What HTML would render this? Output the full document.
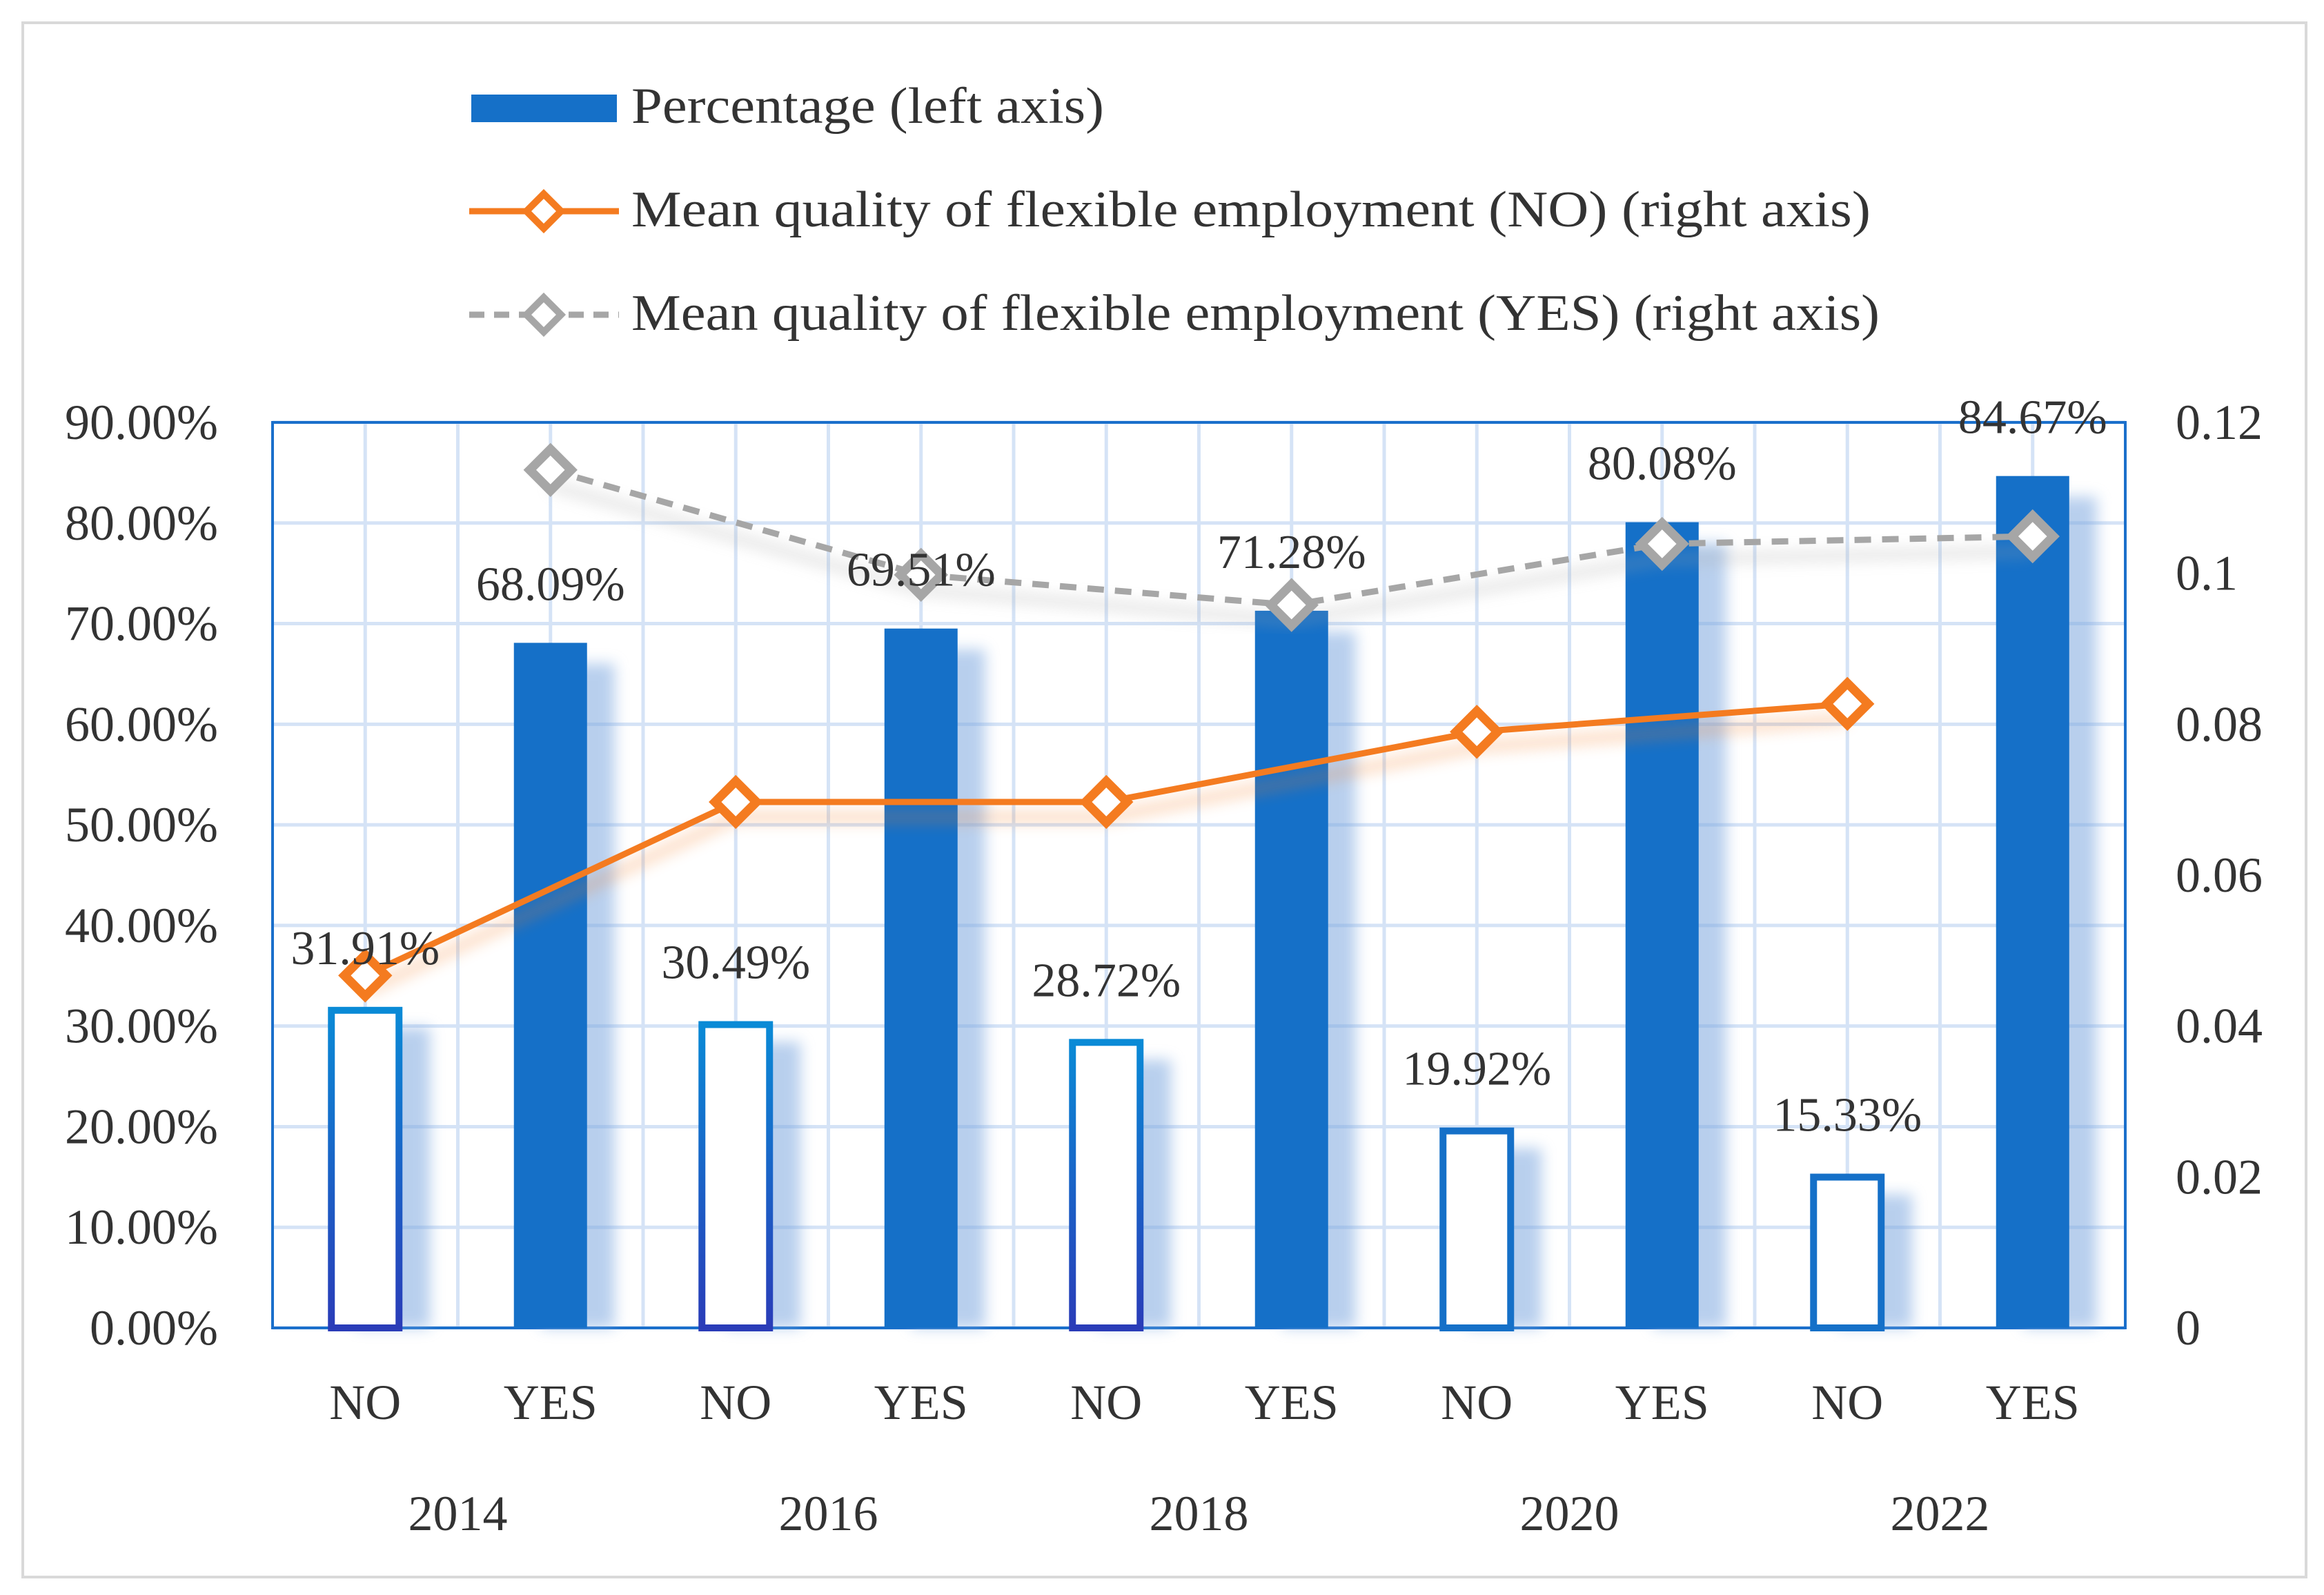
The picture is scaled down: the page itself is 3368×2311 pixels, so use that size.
<!DOCTYPE html>
<html><head><meta charset="utf-8"><style>
html,body{margin:0;padding:0;background:#fff;}
svg{display:block;font-family:"Liberation Serif",serif;}
</style></head><body>
<svg id="chart" width="3368" height="2311" viewBox="0 0 3368 2311">
<defs>
<filter id="blur" x="-50%" y="-10%" width="200%" height="120%"><feGaussianBlur stdDeviation="10"/></filter>
<linearGradient id="noGrad" x1="0" y1="0" x2="0" y2="1"><stop offset="0" stop-color="#0a8ad6"/><stop offset="1" stop-color="#2a3cb8"/></linearGradient>
</defs>
<rect x="33" y="33" width="3309" height="2252" fill="#fff" stroke="#d9d9d9" stroke-width="4"/>
<g id="legend">
<rect x="683" y="137" width="211" height="40" fill="#1570c8"/>
<text x="915" y="178" font-size="74" fill="#333" textLength="685" lengthAdjust="spacingAndGlyphs">Percentage (left axis)</text>
<line x1="680" y1="306" x2="897" y2="306" stroke="#f47b20" stroke-width="9"/>
<path d="M788 281 L813 306 L788 331 L763 306 Z" fill="#fff" stroke="#f47b20" stroke-width="10"/>
<text x="915" y="328" font-size="74" fill="#333" textLength="1796" lengthAdjust="spacingAndGlyphs">Mean quality of flexible employment (NO) (right axis)</text>
<line x1="680" y1="456" x2="897" y2="456" stroke="#a6a6a6" stroke-width="9" stroke-dasharray="22,14"/>
<path d="M788 431 L813 456 L788 481 L763 456 Z" fill="#fff" stroke="#a6a6a6" stroke-width="10"/>
<text x="915" y="478" font-size="74" fill="#333" textLength="1809" lengthAdjust="spacingAndGlyphs">Mean quality of flexible employment (YES) (right axis)</text>
</g>
<g id="grid"></g><g id="bars"></g><g id="lines"></g><g id="labels"></g>
</svg>
<script>
const categories = ["NO","YES","NO","YES","NO","YES","NO","YES","NO","YES"];
const years = ["2014","2016","2018","2020","2022"];
const percentages = [31.91,68.09,30.49,69.51,28.72,71.28,19.92,80.08,15.33,84.67];
const qualityNo = [0.0467,0.0697,0.0697,0.0790,0.0827];
const qualityYes = [0.1137,0.0998,0.0958,0.1039,0.1049];
const leftTicks = ["0.00%","10.00%","20.00%","30.00%","40.00%","50.00%","60.00%","70.00%","80.00%","90.00%"];
const rightTicks = ["0","0.02","0.04","0.06","0.08","0.1","0.12"];

const NS="http://www.w3.org/2000/svg";
const L=395,R=3080,T=612,B=1924;
const slot=(R-L)/categories.length;
const xC=i=>L+slot*(i+0.5);
const yL=v=>B-(v/90)*(B-T);
const yR=v=>B-(v/0.12)*(B-T);
function mk(tag,attrs,parent){const e=document.createElementNS(NS,tag);for(const k in attrs)e.setAttribute(k,attrs[k]);parent.appendChild(e);return e;}
const grid=document.getElementById('grid'),bars=document.getElementById('bars'),lines=document.getElementById('lines'),labels=document.getElementById('labels');

for(let i=0;i<leftTicks.length;i++){
  const y=yL(i*10);
  const g=mk('line',{x1:L,x2:R,y1:y,y2:y,stroke:'#d5e3f6','stroke-width':5},grid);
  
  
  const t=mk('text',{x:316,y:y+24,'font-size':72,fill:'#333','text-anchor':'end'},labels);
  t.textContent=leftTicks[i];
  
  
}
for(let i=0;i<rightTicks.length;i++){
  const y=yR(i*0.02);
  const t=mk('text',{x:3153,y:y+24,'font-size':72,fill:'#333'},labels);
  t.textContent=rightTicks[i];
  
  
}
for(let k=1;k<categories.length*2;k++){
  const x=L+slot*k/2;
  const g=mk('line',{x1:x,x2:x,y1:T,y2:B,stroke:'#d5e3f6','stroke-width':5},grid);
  
  
}
const frame=mk('rect',{x:L,y:T,width:R-L,height:B-T,fill:'none',stroke:'#1a6fcb','stroke-width':4},grid);



percentages.forEach((v,i)=>{
  const cx=xC(i),top=yL(v);
  const isNo=categories[i]==="NO";
  const w=isNo?108:106;
  const sh=mk('rect',{x:cx-w/2+40,y:top+30,width:w,height:B-top-30,fill:'#7fa9e0',opacity:0.55,filter:'url(#blur)'},bars);
  
  
  let b;
  if(isNo){
    b=mk('rect',{x:cx-w/2+5,y:top+5,width:w-10,height:B-top-5,fill:'#fff',stroke:'url(#noGrad)','stroke-width':10},bars);
    if(i>=6) b.setAttribute('stroke','#1570c8');
  } else {
    b=mk('rect',{x:cx-w/2,y:top,width:w,height:B-top,fill:'#1570c8'},bars);
  }
  
  
  const t=mk('text',{x:cx,y:top-62,'font-size':70,fill:'#333','text-anchor':'middle'},labels);
  t.textContent=v.toFixed(2)+'%';
  
  
  const c=mk('text',{x:cx,y:2056,'font-size':72,fill:'#333','text-anchor':'middle'},labels);
  c.textContent=categories[i];
  
  
});
years.forEach((yv,j)=>{
  const t=mk('text',{x:L+slot*(2*j+1),y:2217,'font-size':72,fill:'#333','text-anchor':'middle'},labels);
  t.textContent=yv;
  
  
});

function series(vals,offset,color,dash,name){
  const pts=vals.map((v,j)=>[xC(2*j+offset),yR(v)]);
  const d=pts.map((p,j)=>(j?'L':'M')+p[0]+' '+p[1]).join(' ');
  const glow=mk('path',{d:d,transform:'translate(0,22)',fill:'none',stroke:color,'stroke-width':18,opacity:0.25,filter:'url(#blur)'},lines);
  
  
  const p=mk('path',{d:d,fill:'none',stroke:color,'stroke-width':9},lines);
  if(dash)p.setAttribute('stroke-dasharray','24,16');
  
  
  pts.forEach(pt=>{
    const m=mk('path',{d:`M${pt[0]} ${pt[1]-30} L${pt[0]+30} ${pt[1]} L${pt[0]} ${pt[1]+30} L${pt[0]-30} ${pt[1]} Z`,fill:'#fff',stroke:color,'stroke-width':13},lines);
    
    
  });
}
series(qualityYes,1,'#a6a6a6',true,'quality-yes');
series(qualityNo,0,'#f47b20',false,'quality-no');
</script>
</body></html>
